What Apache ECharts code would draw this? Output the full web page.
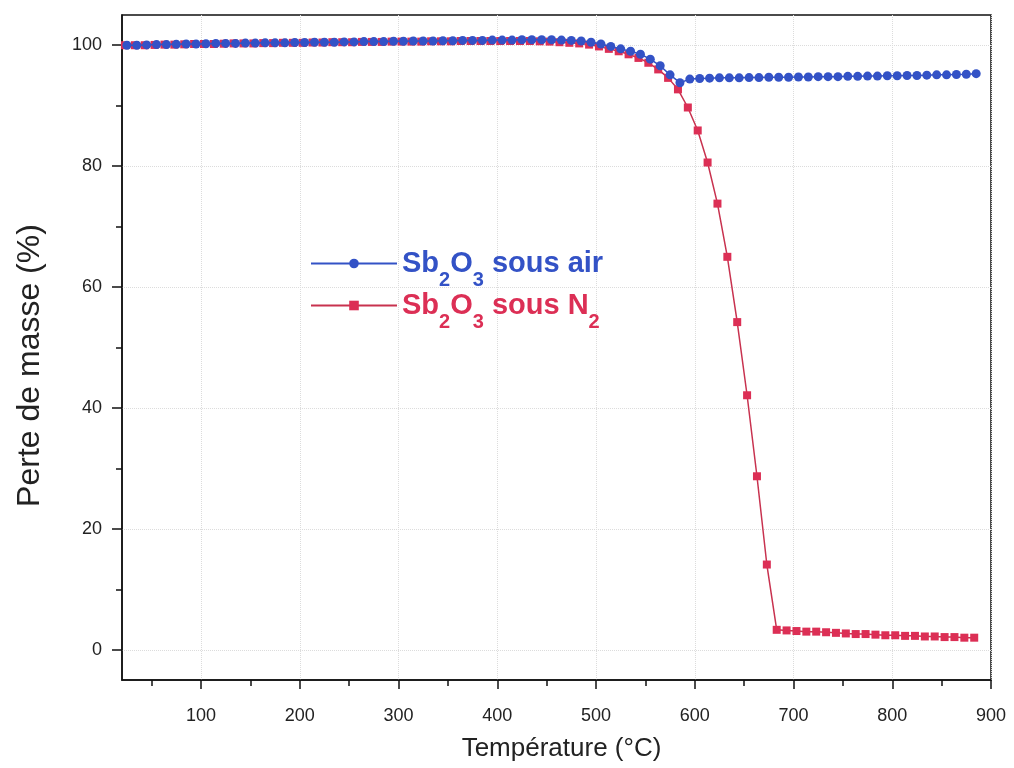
<!DOCTYPE html>
<html>
<head>
<meta charset="utf-8">
<script src="https://cdn.jsdelivr.net/npm/echarts@6/dist/echarts.min.js"></script>
<style>
html,body{margin:0;padding:0;background:#fff;}
#c{width:1014px;height:768px;}
</style>
</head>
<body>
<div id="c"></div>
<script>
// ---- data ----
const seriesNames = ['Sb2O3 sous air', 'Sb2O3 sous N2'];
const tempsAir = [25,35,45,55,65,75,85,95,105,115,125,135,145,155,165,175,185,195,205,215,225,235,245,255,265,275,285,295,305,315,325,335,345,355,365,375,385,395,405,415,425,435,445,455,465,475,485,495,505,515,525,535,545,555,565,575,585,595,605,615,625,635,645,655,665,675,685,695,705,715,725,735,745,755,765,775,785,795,805,815,825,835,845,855,865,875,885];
const massAir = [100.0,100.0,100.05,100.1,100.1,100.15,100.2,100.2,100.25,100.3,100.3,100.3,100.35,100.35,100.4,100.4,100.4,100.45,100.45,100.5,100.5,100.5,100.55,100.55,100.6,100.6,100.6,100.65,100.65,100.7,100.7,100.7,100.75,100.75,100.8,100.8,100.8,100.85,100.85,100.85,100.9,100.9,100.9,100.9,100.85,100.8,100.7,100.5,100.2,99.8,99.4,99.0,98.5,97.7,96.6,95.1,93.8,94.4,94.5,94.55,94.6,94.6,94.6,94.65,94.65,94.7,94.7,94.7,94.75,94.75,94.8,94.8,94.8,94.85,94.85,94.9,94.9,94.95,94.95,95.0,95.0,95.05,95.1,95.1,95.15,95.2,95.3];
const tempsN2 = [23,33,43,53,63,73,83,93,103,113,123,133,143,153,163,173,183,193,203,213,223,233,243,253,263,273,283,293,303,313,323,333,343,353,363,373,383,393,403,413,423,433,443,453,463,473,483,493,503,513,523,533,543,553,563,573,583,593,603,613,623,633,643,653,663,673,683,693,703,713,723,733,743,753,763,773,783,793,803,813,823,833,843,853,863,873,883];
const massN2 = [100.0,100.0,100.0,100.05,100.1,100.1,100.15,100.2,100.2,100.2,100.25,100.3,100.3,100.3,100.35,100.35,100.4,100.4,100.4,100.45,100.45,100.5,100.5,100.5,100.55,100.55,100.55,100.6,100.6,100.6,100.6,100.65,100.65,100.65,100.7,100.7,100.7,100.7,100.7,100.7,100.7,100.7,100.65,100.6,100.5,100.4,100.3,100.1,99.8,99.4,99.0,98.5,97.9,97.1,96.0,94.6,92.7,89.7,85.9,80.6,73.8,65.0,54.2,42.1,28.7,14.1,3.3,3.2,3.1,3.0,3.0,2.9,2.8,2.7,2.6,2.6,2.5,2.4,2.4,2.3,2.3,2.2,2.2,2.1,2.1,2.0,2.0];
const xTickValues = [100,200,300,400,500,600,700,800,900];
const xMinorValues = [50,150,250,350,450,550,650,750,850];
const yTickValues = [0,20,40,60,80,100];
const yMinorValues = [10,30,50,70,90];

// ---- chart ----
const FONT = '"Liberation Sans", Arial, Helvetica, sans-serif';
const BLUE = '#3352c6';
const RED = '#dc2f55';
const AXC = '#111';
const chart = echarts.init(document.getElementById('c'), null, {renderer: 'canvas'});

function legendRich(color) {
  return {
    color: color,
    rich: {
      m: {fontSize: 29, fontWeight: 'bold', fontFamily: FONT, color: color, lineHeight: 53},
      s: {fontSize: 20, fontWeight: 'bold', fontFamily: FONT, color: color, lineHeight: 20, verticalAlign: 'bottom'}
    }
  };
}

const baseX = {type: 'value', min: 20, max: 900, position: 'bottom'};
const baseY = {type: 'value', min: -5, max: 105, position: 'left'};

chart.setOption({
  animation: false,
  backgroundColor: '#fff',
  grid: {left: 122, right: 23, top: 15, bottom: 88, show: true, borderColor: AXC, borderWidth: 1.5, backgroundColor: 'transparent'},
  legend: {
    orient: 'vertical', left: 305, top: 244, itemWidth: 86, itemHeight: 12, itemGap: 1,
    data: [
      {name: seriesNames[0], textStyle: legendRich(BLUE)},
      {name: seriesNames[1], textStyle: legendRich(RED)}
    ],
    formatter: function (name) {
      return name === seriesNames[0]
        ? '{m|Sb}{s|2}{m|O}{s|3}{m| sous air}'
        : '{m|Sb}{s|2}{m|O}{s|3}{m| sous N}{s|2}';
    }
  },
  xAxis: [
    Object.assign({}, baseX, {
      name: 'Température (°C)', nameLocation: 'middle', nameGap: 56,
      nameTextStyle: {fontSize: 26, color: '#222', fontFamily: FONT, padding: [0, 0, 0, 10]},
      axisLine: {show: true, onZero: false, lineStyle: {color: AXC, width: 1.5}},
      axisTick: {show: true, inside: false, length: 9, customValues: xTickValues, lineStyle: {color: AXC, width: 1.5}},
      axisLabel: {customValues: xTickValues, fontSize: 18, color: '#222', fontFamily: FONT, margin: 27},
      splitLine: {show: true, lineStyle: {color: '#dcdcdc', type: 'dotted', width: 1}}
    }),
    Object.assign({}, baseX, {
      axisLine: {show: false, onZero: false},
      axisTick: {show: true, inside: false, length: 6, customValues: xMinorValues, lineStyle: {color: AXC, width: 1.5}},
      axisLabel: {show: false},
      splitLine: {show: false}
    })
  ],
  yAxis: [
    Object.assign({}, baseY, {
      name: 'Perte de masse (%)', nameLocation: 'middle', nameGap: 76,
      nameTextStyle: {fontSize: 32, color: '#222', fontFamily: FONT, padding: [0, 36, 0, 0]},
      axisLine: {show: true, onZero: false, lineStyle: {color: AXC, width: 1.5}},
      axisTick: {show: true, inside: false, length: 10, customValues: yTickValues, lineStyle: {color: AXC, width: 1.5}},
      axisLabel: {customValues: yTickValues, fontSize: 18, color: '#222', fontFamily: FONT, margin: 20},
      splitLine: {show: true, lineStyle: {color: '#dcdcdc', type: 'dotted', width: 1}}
    }),
    Object.assign({}, baseY, {
      axisLine: {show: false, onZero: false},
      axisTick: {show: true, inside: false, length: 6, customValues: yMinorValues, lineStyle: {color: AXC, width: 1.5}},
      axisLabel: {show: false},
      splitLine: {show: false}
    })
  ],
  series: [
    {
      name: seriesNames[1], type: 'line', xAxisIndex: 0, yAxisIndex: 0,
      data: tempsN2.map((t, i) => [t, massN2[i]]),
      symbol: 'rect', symbolSize: 8, showAllSymbol: true,
      lineStyle: {color: '#c8324f', width: 1.5},
      itemStyle: {color: RED},
      z: 2
    },
    {
      name: seriesNames[0], type: 'line', xAxisIndex: 0, yAxisIndex: 0,
      data: tempsAir.map((t, i) => [t, massAir[i]]),
      symbol: 'circle', symbolSize: 9, showAllSymbol: true,
      lineStyle: {color: BLUE, width: 1.5},
      itemStyle: {color: BLUE},
      z: 3
    }
  ]
});
</script>
</body>
</html>
